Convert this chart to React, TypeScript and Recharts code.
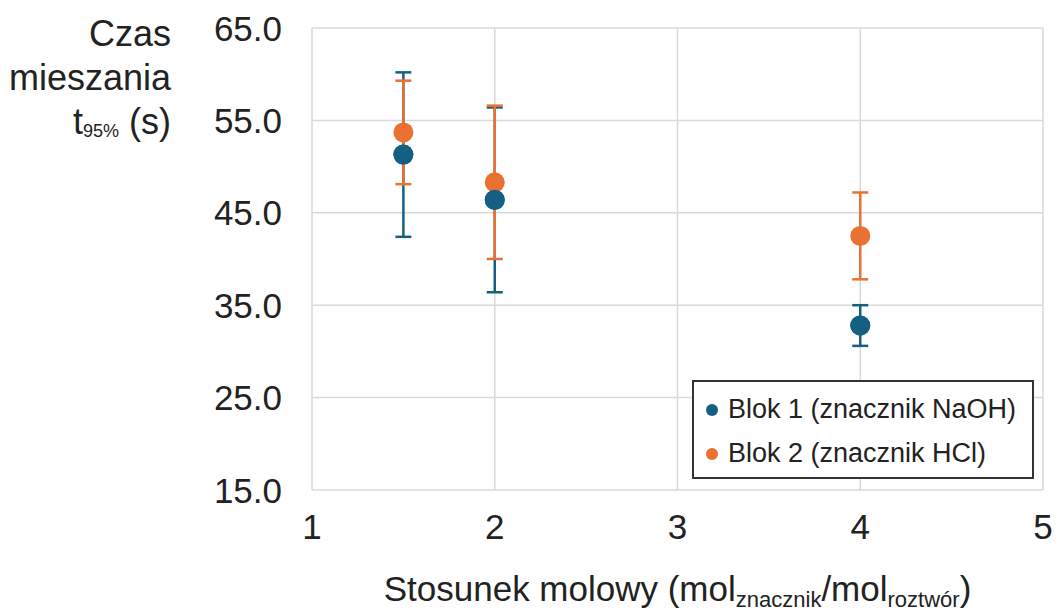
import React from 'react';
import { ScatterChart, Scatter, XAxis, YAxis, CartesianGrid, ErrorBar } from 'recharts';

// stosunek molowy (mol znacznik / mol roztwór)
const ratios = [1.5, 2, 4];
// Blok 1 – znacznik NaOH
const blok1Time = [51.3, 46.4, 32.8];
const blok1Err = [8.9, 10.0, 2.2];
// Blok 2 – znacznik HCl
const blok2Time = [53.7, 48.3, 42.5];
const blok2Err = [5.6, 8.3, 4.7];

const xTicks = [1, 2, 3, 4, 5];
const yTicks = [15, 25, 35, 45, 55, 65];

const seriesNames = ['Blok 1 (znacznik NaOH)', 'Blok 2 (znacznik HCl)'];
const BLUE = '#156082';
const ORANGE = '#E97132';
const TEXT = '#222';
const FONT = '"Liberation Sans", Arial, sans-serif';

const blok1 = ratios.map((r, i) => ({ x: r, y: blok1Time[i], err: blok1Err[i] }));
const blok2 = ratios.map((r, i) => ({ x: r, y: blok2Time[i], err: blok2Err[i] }));

const dot = (color: string) => (p: any) => <circle cx={p.cx} cy={p.cy} r={10} fill={color} />;

const YTick = ({ x, y, payload }: any) => (
    <text x={x} y={y} textAnchor="end" dominantBaseline="central" fontSize={35} fill={TEXT} fontFamily={FONT}>
        {Number(payload.value).toFixed(1)}
    </text>
);

const XTick = ({ x, y, payload }: any) => (
    <text x={x} y={y} textAnchor="middle" dominantBaseline="central" fontSize={35} fill={TEXT} fontFamily={FONT}>
        {payload.value}
    </text>
);

const YTitle = () => (
    <g fontFamily={FONT} fill={TEXT} fontSize={36}>
        <text x={171} y={46} textAnchor="end">Czas</text>
        <text x={171} y={90} textAnchor="end">mieszania</text>
        <text x={171} y={134} textAnchor="end">
            t<tspan fontSize={18} dy={3}>95%</tspan>
            <tspan dy={-3}> (s)</tspan>
        </text>
    </g>
);

const XTitle = (props: any) => {
    const vb = props.viewBox || { x: 312, width: 731 };
    return (
        <text x={vb.x + vb.width / 2} y={601} textAnchor="middle" fontFamily={FONT} fill={TEXT} fontSize={35}>
            Stosunek molowy (mol
            <tspan fontSize={22} dy={6}>znacznik</tspan>
            <tspan dy={-6}>/mol</tspan>
            <tspan fontSize={22} dy={6}>roztwór</tspan>
            <tspan dy={-6}>)</tspan>
        </text>
    );
};

export default function App() {
    return (
        <div style={{ position: 'absolute', left: 0, top: 0, width: 1058, height: 612, background: '#fff' }}>
            <ScatterChart width={1058} height={612} margin={{ top: 28, right: 15, bottom: 22, left: 212 }}>
                <CartesianGrid stroke="#d9d9d9" strokeWidth={1.5} />
                <XAxis
                    type="number"
                    dataKey="x"
                    domain={[1, 5]}
                    ticks={xTicks}
                    height={100}
                    axisLine={false}
                    tickLine={false}
                    tickSize={0}
                    tickMargin={36}
                    tick={<XTick />}
                    label={{ content: <XTitle /> }}
                />
                <YAxis
                    type="number"
                    dataKey="y"
                    domain={[15, 65]}
                    ticks={yTicks}
                    width={100}
                    axisLine={false}
                    tickLine={false}
                    tickSize={0}
                    tickMargin={30}
                    tick={<YTick />}
                    label={{ content: <YTitle /> }}
                />
                <Scatter data={blok1} shape={dot(BLUE)} isAnimationActive={false}>
                    <ErrorBar dataKey="err" direction="y" width={8} stroke={BLUE} strokeWidth={2.5} isAnimationActive={false} />
                </Scatter>
                <Scatter data={blok2} shape={dot(ORANGE)} isAnimationActive={false}>
                    <ErrorBar dataKey="err" direction="y" width={8} stroke={ORANGE} strokeWidth={2.5} isAnimationActive={false} />
                </Scatter>
                {/* blue markers again so they sit above the orange ones, as in the original */}
                <Scatter data={blok1} shape={dot(BLUE)} isAnimationActive={false} />
            </ScatterChart>
            <div
                style={{
                    position: 'absolute',
                    left: 692,
                    top: 380,
                    width: 338,
                    height: 95,
                    border: '2px solid #333',
                    background: '#fff',
                    fontFamily: FONT,
                    fontSize: 27,
                    color: TEXT,
                    boxSizing: 'content-box',
                }}
            >
                {seriesNames.map((name, i) => (
                    <div key={name} style={{ position: 'absolute', left: 12, top: i === 0 ? 12 : 56, display: 'flex', alignItems: 'center', whiteSpace: 'nowrap' }}>
                        <span style={{ display: 'inline-block', width: 12, height: 12, borderRadius: 6, background: i === 0 ? BLUE : ORANGE, marginRight: 10 }} />
                        {name}
                    </div>
                ))}
            </div>
        </div>
    );
}
